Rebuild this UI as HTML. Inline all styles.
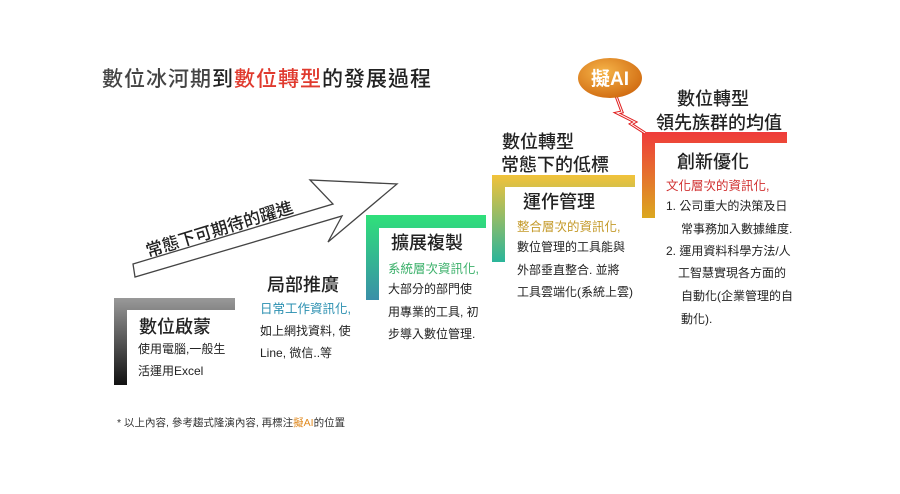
<!DOCTYPE html>
<html><head><meta charset="utf-8"><style>
body{margin:0;width:900px;height:494px;background:#fff;position:relative;overflow:hidden;font-family:"Liberation Sans","Noto Sans CJK TC",sans-serif;color:#222}
.a{position:absolute;white-space:nowrap}
.h{font-size:18px;font-weight:500;color:#222}
.t{font-size:12px;color:#222}
.s{font-size:12.5px}
</style></head><body>
<div class="a" style="left:102px;top:63px;font-size:21px;font-weight:500;color:#444;letter-spacing:1px">數位冰河期<span style="color:#222">到</span><span style="color:#e03a2e">數位轉型</span><span style="color:#222">的發展過程</span></div>

<svg class="a" style="left:0;top:0" width="900" height="494">
<defs>
<linearGradient id="g1" x1="0" y1="0" x2="0" y2="1"><stop offset="0" stop-color="#999"/><stop offset="1" stop-color="#111"/></linearGradient>
<linearGradient id="g3" x1="0" y1="0" x2="0" y2="1"><stop offset="0" stop-color="#2fe07a"/><stop offset="1" stop-color="#3a8fa8"/></linearGradient>
<linearGradient id="g4" x1="0" y1="0" x2="0" y2="1"><stop offset="0" stop-color="#f2c23a"/><stop offset="1" stop-color="#2ab59a"/></linearGradient>
<linearGradient id="g5" x1="0" y1="0" x2="0" y2="1"><stop offset="0" stop-color="#ef3b3b"/><stop offset="1" stop-color="#dba820"/></linearGradient>
<radialGradient id="ge" cx="0.4" cy="0.35" r="0.7"><stop offset="0" stop-color="#f6b54a"/><stop offset="1" stop-color="#d06a10"/></radialGradient>
</defs>
<path d="M114 298H235V310H127V385H114Z" fill="url(#g1)"/>
<path d="M366 215H486V228H379V300H366Z" fill="url(#g3)"/>
<path d="M492 175H635V187H505V262H492Z" fill="url(#g4)"/>
<path d="M642 132H787V143H655V218H642Z" fill="url(#g5)"/>
<polygon points="133,264 333,204 310,180 397,184 328,242 342,216 135,277" fill="#fff" stroke="#444" stroke-width="1.3" stroke-linejoin="miter"/>
<text x="0" y="0" transform="translate(148,257) rotate(-17)" font-size="17" font-weight="500" fill="#222" font-family="Liberation Sans, Noto Sans CJK TC, sans-serif">常態下可期待的躍進</text>
<polyline points="616,96 622,112 617,113 635,122 631,124 645,133" fill="none" stroke="#e02020" stroke-width="3"/>
<polyline points="616,96 622,112 617,113 635,122 631,124 645,133" fill="none" stroke="#fff" stroke-width="1"/>
<ellipse cx="610" cy="78" rx="32" ry="20" fill="url(#ge)"/>
<text x="610" y="85" text-anchor="middle" font-size="19" font-weight="bold" fill="#fff" font-family="Liberation Sans, Noto Sans CJK TC, sans-serif">擬AI</text>
</svg>

<div class="a h" style="left:139px;top:313px">數位啟蒙</div>
<div class="a t" style="left:138px;top:340px">使用電腦,一般生</div>
<div class="a t" style="left:138px;top:362px">活運用Excel</div>

<div class="a h" style="left:267px;top:271px">局部推廣</div>
<div class="a s" style="left:260px;top:298px;color:#2a8fb0">日常工作資訊化,</div>
<div class="a t" style="left:260px;top:322px">如上網找資料, 使</div>
<div class="a t" style="left:260px;top:344px">Line, 微信..等</div>

<div class="a h" style="left:391px;top:229px">擴展複製</div>
<div class="a s" style="left:388px;top:258px;color:#3bb06a">系統層次資訊化,</div>
<div class="a t" style="left:388px;top:280px">大部分的部門使</div>
<div class="a t" style="left:388px;top:303px">用專業的工具, 初</div>
<div class="a t" style="left:388px;top:325px">步導入數位管理.</div>

<div class="a h" style="left:502px;top:128px">數位轉型</div>
<div class="a h" style="left:501px;top:151px">常態下的低標</div>
<div class="a h" style="left:523px;top:188px">運作管理</div>
<div class="a s" style="left:517px;top:216px;color:#c49a2a">整合層次的資訊化,</div>
<div class="a t" style="left:517px;top:238px">數位管理的工具能與</div>
<div class="a t" style="left:517px;top:261px">外部垂直整合. 並將</div>
<div class="a t" style="left:517px;top:283px">工具雲端化(系統上雲)</div>

<div class="a h" style="left:677px;top:85px">數位轉型</div>
<div class="a h" style="left:656px;top:109px">領先族群的均值</div>
<div class="a h" style="left:677px;top:148px">創新優化</div>
<div class="a s" style="left:666px;top:175px;color:#d03030">文化層次的資訊化,</div>
<div class="a t" style="left:666px;top:197px">1. 公司重大的決策及日</div>
<div class="a t" style="left:681px;top:220px">常事務加入數據維度.</div>
<div class="a t" style="left:666px;top:242px">2. 運用資料科學方法/人</div>
<div class="a t" style="left:678px;top:264px">工智慧實現各方面的</div>
<div class="a t" style="left:681px;top:287px">自動化(企業管理的自</div>
<div class="a t" style="left:681px;top:310px">動化).</div>

<div class="a" style="left:117px;top:415px;font-size:10.5px;color:#333">* 以上內容, 參考趨式隆演內容, 再標注<span style="color:#e08a20">擬AI</span>的位置</div>
</body></html>
